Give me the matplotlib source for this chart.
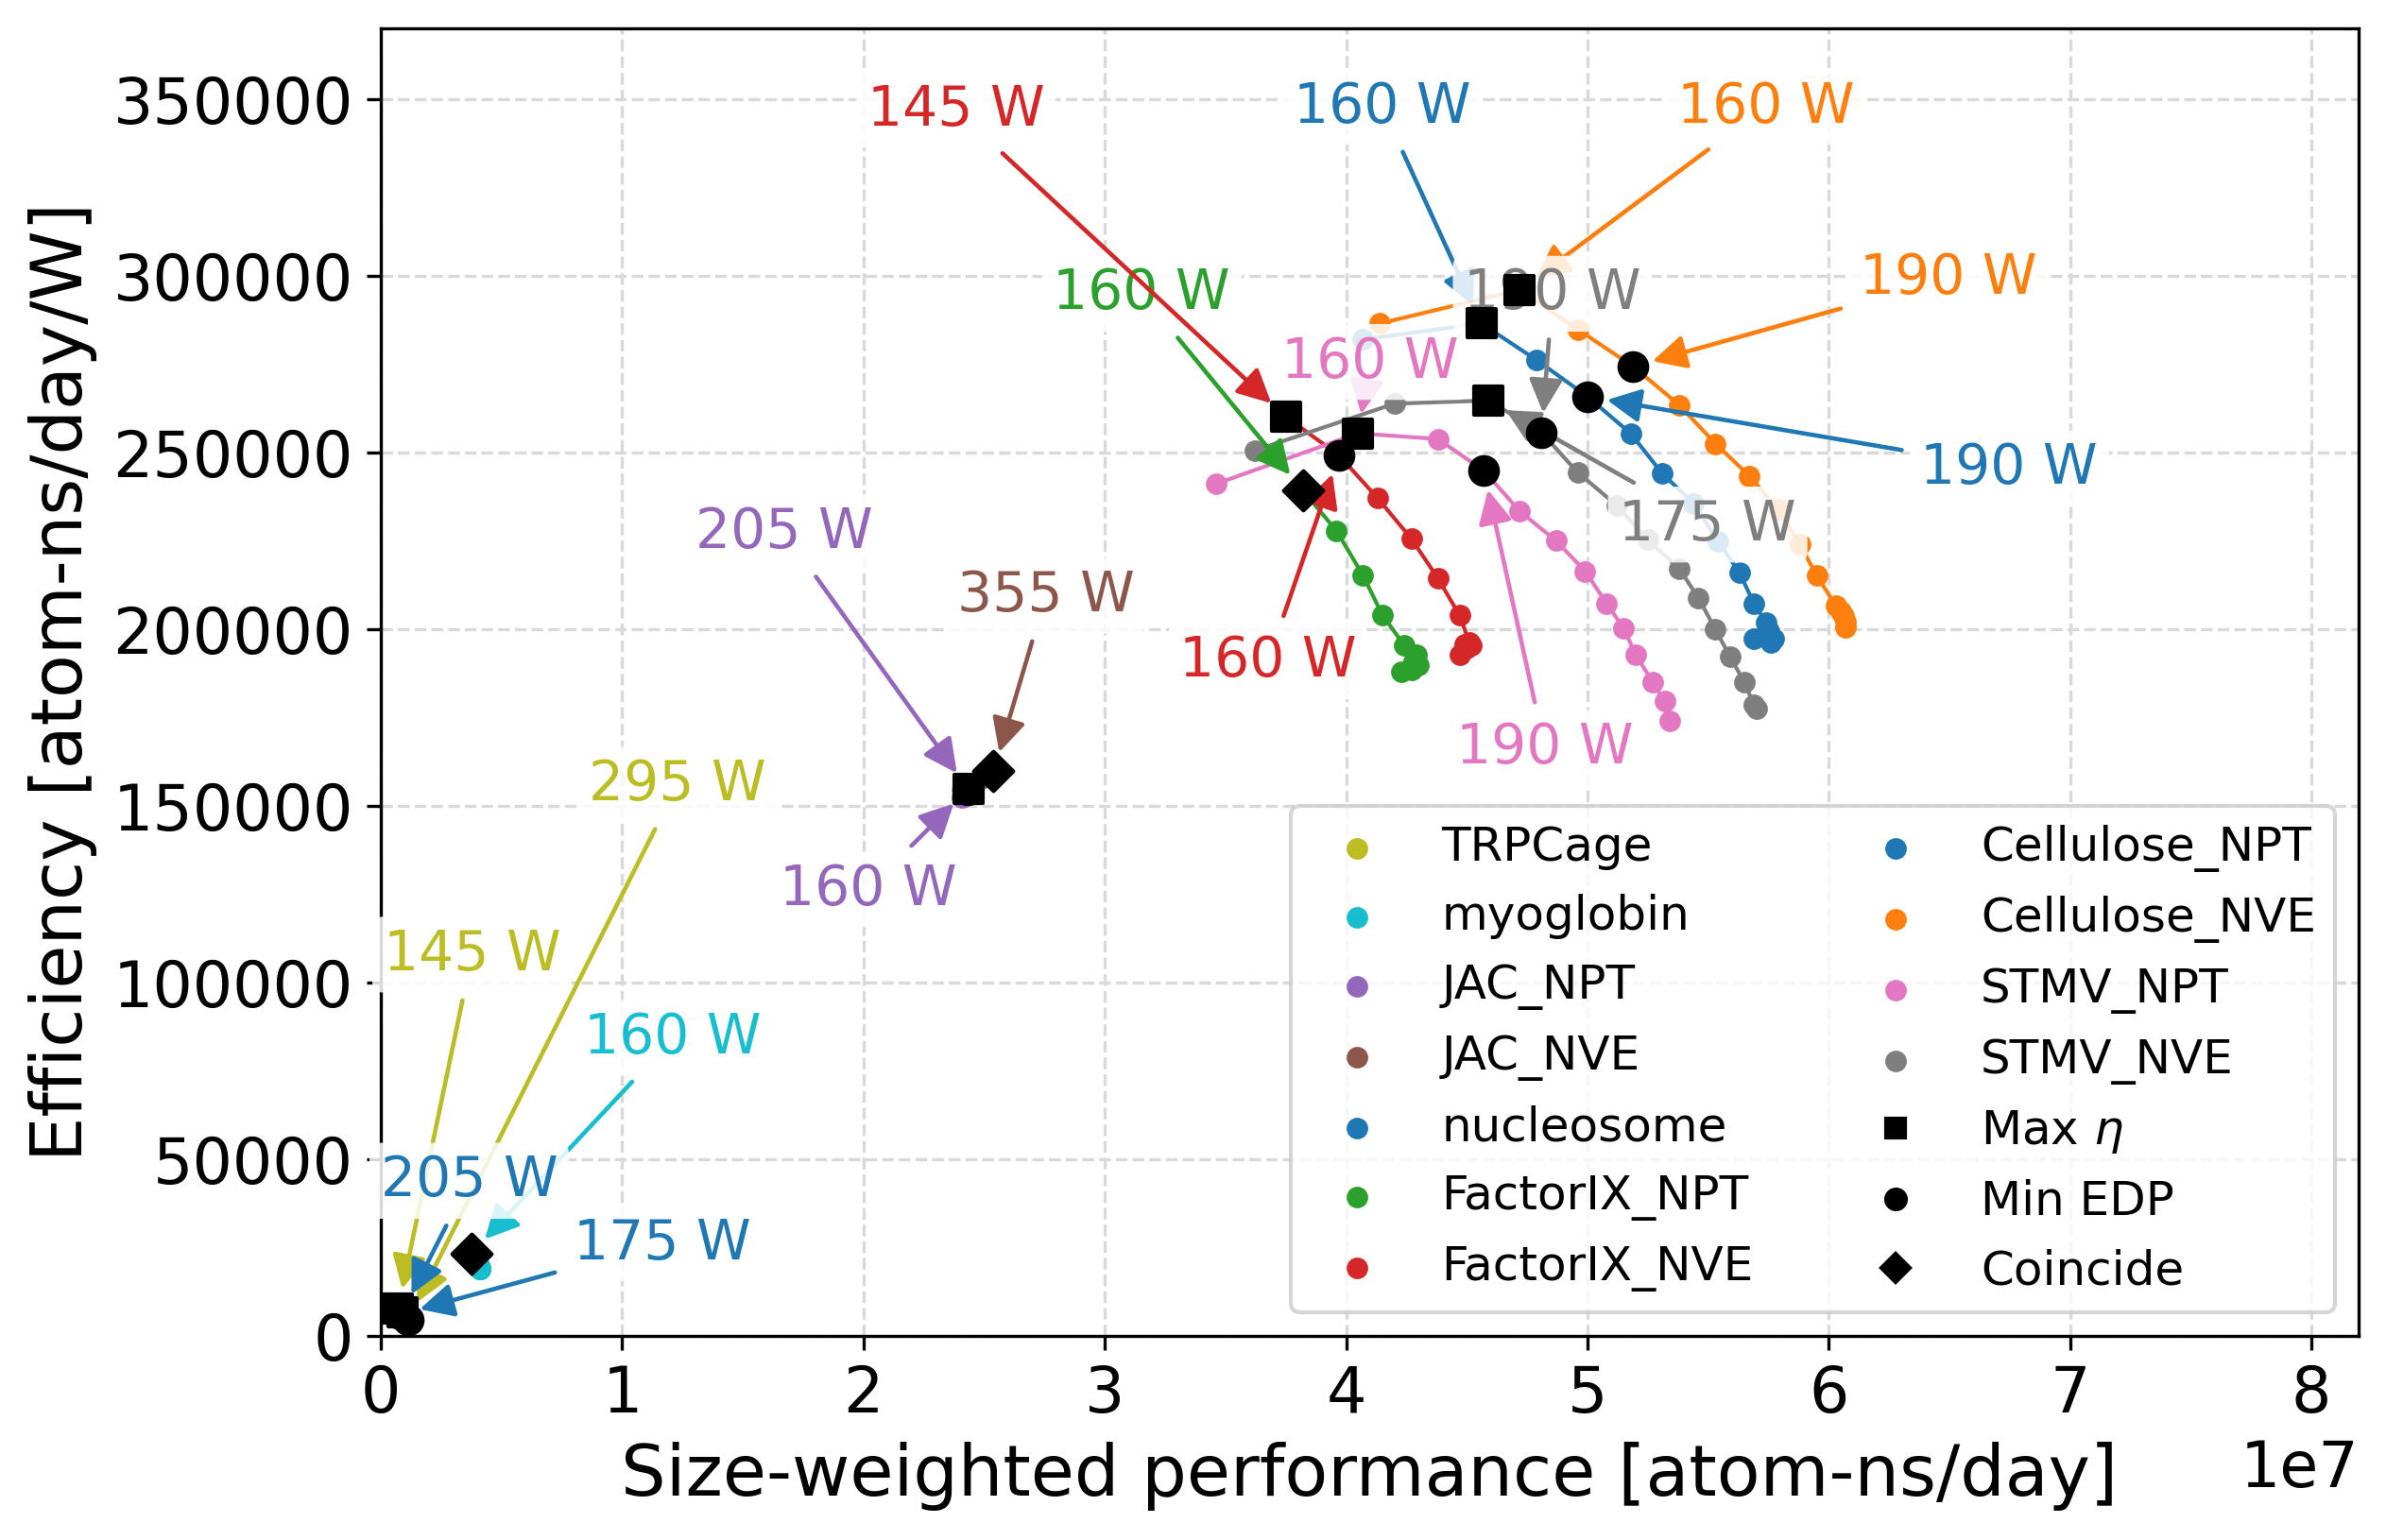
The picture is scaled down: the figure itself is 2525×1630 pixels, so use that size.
import matplotlib
matplotlib.use('Agg')
import matplotlib.pyplot as plt
from matplotlib.lines import Line2D

# power caps swept (W)
caps = [145, 160, 175, 190, 205, 220, 235, 250, 265, 280, 295, 310, 325, 340, 355]

names = ['TRPCage', 'myoglobin', 'JAC_NPT', 'JAC_NVE', 'nucleosome', 'FactorIX_NPT',
         'FactorIX_NVE', 'Cellulose_NPT', 'Cellulose_NVE', 'STMV_NPT', 'STMV_NVE']
colors = ['#bcbd22', '#17becf', '#9467bd', '#8c564b', '#1f77b4', '#2ca02c',
          '#d62728', '#1f77b4', '#ff7f0e', '#e377c2', '#7f7f7f']

# size-weighted performance [atom-ns/day]
perf = {
    'TRPCage': [0.072e7, 0.080e7, 0.087e7, 0.093e7, 0.098e7, 0.102e7, 0.105e7, 0.108e7,
                0.110e7, 0.112e7, 0.113e7, 0.114e7, 0.115e7, 0.115e7, 0.116e7],
    'myoglobin': [0.365e7, 0.375e7, 0.390e7, 0.398e7, 0.403e7, 0.406e7, 0.408e7, 0.409e7,
                  0.410e7, 0.410e7, 0.411e7, 0.411e7, 0.411e7, 0.411e7, 0.411e7],
    'JAC_NPT': [2.410e7, 2.432e7, 2.434e7, 2.435e7, 2.435e7, 2.436e7, 2.436e7, 2.437e7,
                2.437e7, 2.437e7, 2.438e7, 2.438e7, 2.438e7, 2.438e7, 2.438e7],
    'JAC_NVE': [2.500e7, 2.505e7, 2.510e7, 2.515e7, 2.518e7, 2.521e7, 2.524e7, 2.527e7,
                2.529e7, 2.531e7, 2.533e7, 2.535e7, 2.537e7, 2.538e7, 2.539e7],
    'nucleosome': [0.070e7, 0.076e7, 0.082e7, 0.086e7, 0.090e7, 0.092e7, 0.094e7, 0.095e7,
                   0.096e7, 0.097e7, 0.097e7, 0.098e7, 0.098e7, 0.098e7, 0.098e7],
    'FactorIX_NPT': [3.82e7, 3.96e7, 4.07e7, 4.15e7, 4.24e7, 4.29e7, 4.23e7, 4.30e7,
                     4.28e7, 4.27e7],
    'FactorIX_NVE': [3.75e7, 3.97e7, 4.13e7, 4.27e7, 4.38e7, 4.47e7, 4.51e7, 4.47e7,
                     4.52e7, 4.50e7, 4.49e7],
    'Cellulose_NPT': [4.07e7, 4.56e7, 4.79e7, 5.00e7, 5.18e7, 5.31e7, 5.44e7, 5.54e7,
                      5.63e7, 5.69e7, 5.74e7, 5.75e7, 5.69e7, 5.77e7, 5.76e7],
    'Cellulose_NVE': [4.14e7, 4.72e7, 4.96e7, 5.19e7, 5.38e7, 5.53e7, 5.67e7, 5.79e7,
                      5.88e7, 5.95e7, 6.03e7, 6.05e7, 6.06e7, 6.07e7, 6.07e7],
    'STMV_NPT': [3.46e7, 4.05e7, 4.38e7, 4.57e7, 4.72e7, 4.87e7, 4.99e7, 5.08e7,
                 5.15e7, 5.20e7, 5.27e7, 5.32e7, 5.34e7],
    'STMV_NVE': [3.62e7, 4.20e7, 4.59e7, 4.81e7, 4.96e7, 5.12e7, 5.25e7, 5.38e7,
                 5.46e7, 5.53e7, 5.59e7, 5.65e7, 5.69e7, 5.70e7],
}

# efficiency [atom-ns/day/W]
eff = {
    'TRPCage': [7800, 7200, 6700, 6300, 5900, 5600, 5300, 5100, 4900, 4700, 4500, 4400,
                4300, 4200, 4100],
    'myoglobin': [22800, 23300, 21800, 20800, 20200, 19800, 19500, 19300, 19200, 19100,
                  19000, 19000, 19000, 19000, 19000],
    'JAC_NPT': [152500, 154600, 154650, 154700, 154700, 154700, 154650, 154600, 154600,
                154550, 154500, 154500, 154500, 154500, 154500],
    'JAC_NVE': [158000, 158200, 158400, 158600, 158800, 158900, 159000, 159100, 159200,
                159300, 159400, 159500, 159600, 159700, 159800],
    'nucleosome': [5000, 5600, 6100, 6500, 6800, 6600, 6300, 6000, 5700, 5500, 5300,
                   5200, 5100, 5000, 5000],
    'FactorIX_NPT': [239300, 227800, 215200, 204000, 195500, 192800, 187900, 189700,
                     191000, 188500],
    'FactorIX_NVE': [260100, 249200, 237100, 225600, 214400, 203900, 196300, 192800,
                     195500, 194500, 195800],
    'Cellulose_NPT': [282000, 286500, 276100, 265800, 255300, 244000, 235600, 224900,
                      216000, 207200, 201900, 199500, 197200, 197200, 196300],
    'Cellulose_NVE': [286500, 296000, 284800, 274300, 263400, 252500, 243400, 233800,
                      224000, 215100, 206600, 205000, 203800, 202000, 200600],
    'STMV_NPT': [241100, 255400, 253800, 244900, 233300, 225000, 216400, 207200,
                 200200, 192800, 185000, 179700, 174100],
    'STMV_NVE': [250500, 263800, 264700, 255600, 244300, 235100, 225300, 217100,
                 208800, 199900, 192300, 185000, 178500, 177500],
}

# first power cap of each sweep
first_cap = {n: 145 for n in names}
first_cap['FactorIX_NPT'] = 160

# power cap at max efficiency / min EDP
max_eta_cap = {'TRPCage': 145, 'myoglobin': 160, 'JAC_NPT': 205, 'JAC_NVE': 355,
               'nucleosome': 205, 'FactorIX_NPT': 160, 'FactorIX_NVE': 145,
               'Cellulose_NPT': 160, 'Cellulose_NVE': 160, 'STMV_NPT': 160, 'STMV_NVE': 175}
min_edp_cap = {'TRPCage': 295, 'myoglobin': 160, 'JAC_NPT': 160, 'JAC_NVE': 355,
               'nucleosome': 175, 'FactorIX_NPT': 160, 'FactorIX_NVE': 160,
               'Cellulose_NPT': 190, 'Cellulose_NVE': 190, 'STMV_NPT': 190, 'STMV_NVE': 190}

# where the "xxx W" labels sit
label_pos_max = {'TRPCage': (0.378e7, 107900), 'myoglobin': (1.211e7, 84300),
                 'JAC_NPT': (1.671e7, 227400), 'JAC_NVE': (2.755e7, 209400),
                 'nucleosome': (0.366e7, 43900), 'FactorIX_NPT': (3.153e7, 294900),
                 'FactorIX_NVE': (2.383e7, 346900), 'Cellulose_NPT': (4.149e7, 347800),
                 'Cellulose_NVE': (5.738e7, 347800), 'STMV_NPT': (4.098e7, 275600),
                 'STMV_NVE': (5.498e7, 229600)}
label_pos_edp = {'TRPCage': (1.230e7, 156100), 'JAC_NPT': (2.018e7, 126400),
                 'nucleosome': (1.166e7, 26200), 'FactorIX_NVE': (3.676e7, 190900),
                 'Cellulose_NPT': (6.747e7, 245500), 'Cellulose_NVE': (6.494e7, 299200),
                 'STMV_NPT': (4.823e7, 166400), 'STMV_NVE': (4.855e7, 294900)}

fig = plt.figure(figsize=(2525 / 300, 1630 / 300), dpi=300)
ax = fig.add_axes([0.1596, 0.1325, 0.8289, 0.8491])

bbox = dict(boxstyle='round,pad=0.2', fc='white', ec='none', alpha=0.85)


def annotate(text, xy, xytext, color):
    ax.annotate(text, xy=xy, xytext=xytext, fontsize=14, color=color,
                ha='center', va='center', bbox=bbox, zorder=3,
                arrowprops=dict(arrowstyle='-|>', color=color, lw=1.1,
                                mutation_scale=18, shrinkA=2, shrinkB=5))


for name, c in zip(names, colors):
    xs, ys = perf[name], eff[name]
    pw = caps[caps.index(first_cap[name]):][:len(xs)]
    ax.plot(xs, ys, '-', color=c, lw=1, zorder=2)
    ax.scatter(xs, ys, s=20, color=c, zorder=2.1, label=name)

    im = pw.index(max_eta_cap[name])
    ie = pw.index(min_edp_cap[name])
    if im == ie:
        ax.scatter(xs[im], ys[im], marker='D', s=50, color='k', zorder=6)
        annotate(f'{pw[im]} W', (xs[im], ys[im]), label_pos_max[name], c)
    else:
        ax.scatter(xs[ie], ys[ie], marker='o', s=50, color='k', zorder=5)
        ax.scatter(xs[im], ys[im], marker='s', s=50, color='k', zorder=6)
        annotate(f'{pw[im]} W', (xs[im], ys[im]), label_pos_max[name], c)
        annotate(f'{pw[ie]} W', (xs[ie], ys[ie]), label_pos_edp[name], c)

ax.set_xlim(0, 8.195e7)
ax.set_ylim(0, 370000)
ax.grid(True, linestyle='--', color='#d9d9d9', lw=0.8)
ax.set_axisbelow(True)
ax.tick_params(labelsize=16)
ax.xaxis.get_offset_text().set_fontsize(16)
ax.set_xlabel('Size-weighted performance [atom-ns/day]', fontsize=18)
ax.set_ylabel('Efficiency [atom-ns/day/W]', fontsize=18)

handles, labels = ax.get_legend_handles_labels()
handles += [Line2D([], [], marker='s', ls='', color='k', ms=5),
            Line2D([], [], marker='o', ls='', color='k', ms=5),
            Line2D([], [], marker='D', ls='', color='k', ms=5)]
labels += ['Max $\\eta$', 'Min EDP', 'Coincide']
ax.legend(handles, labels, ncol=2, loc='lower right', fontsize=12)

fig.savefig('out.png', dpi=300)
